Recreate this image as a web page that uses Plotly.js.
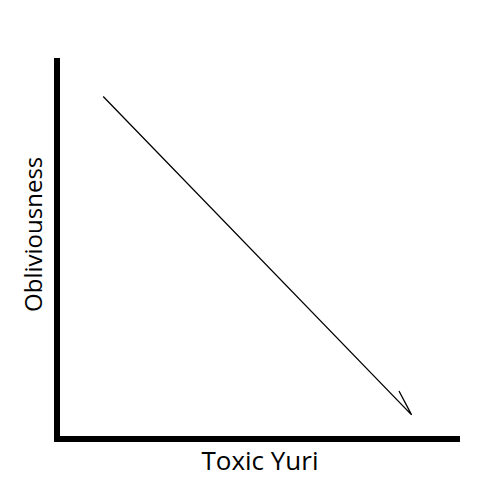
<!DOCTYPE html>
<html><head><meta charset="utf-8">
<script src="https://cdn.plot.ly/plotly-3.0.1.min.js"></script>
<style>html,body{margin:0;padding:0;background:#fff;}#chart{width:500px;height:500px;}</style>
</head><body><div id="chart"></div>
<script>
// Arrow path: start -> tip -> barb end
const toxicYuri = [10.8, 87.9, 84.75];
const obliviousness = [89.8, 5.6, 11.9];
const xTitle = "Toxic Yuri";
const yTitle = "Obliviousness";

Plotly.newPlot('chart', [{
  x: toxicYuri, y: obliviousness, type: 'scatter', mode: 'lines',
  line: {color: '#000', width: 1.3}, hoverinfo: 'skip'
}], {
  width: 500, height: 500,
  margin: {l: 60, r: 40, t: 58, b: 64},
  paper_bgcolor: '#fff', plot_bgcolor: '#fff',
  showlegend: false,
  font: {family: 'Open Sans, sans-serif', color: '#000'},
  xaxis: {range: [0, 100], showgrid: false, zeroline: false, showticklabels: false, ticks: '',
    showline: true, linecolor: '#000', linewidth: 6,
    title: {text: xTitle, font: {size: 26, color: '#000'}, standoff: 13}},
  yaxis: {range: [0, 100], showgrid: false, zeroline: false, showticklabels: false, ticks: '',
    showline: true, linecolor: '#000', linewidth: 6},
  annotations: [{
    text: yTitle, textangle: -90, showarrow: false,
    xref: 'paper', yref: 'paper', x: -0.0675, y: 0.532,
    xanchor: 'center', yanchor: 'middle',
    font: {size: 24, color: '#000'}
  }]
}, {staticPlot: true});
</script></body></html>
